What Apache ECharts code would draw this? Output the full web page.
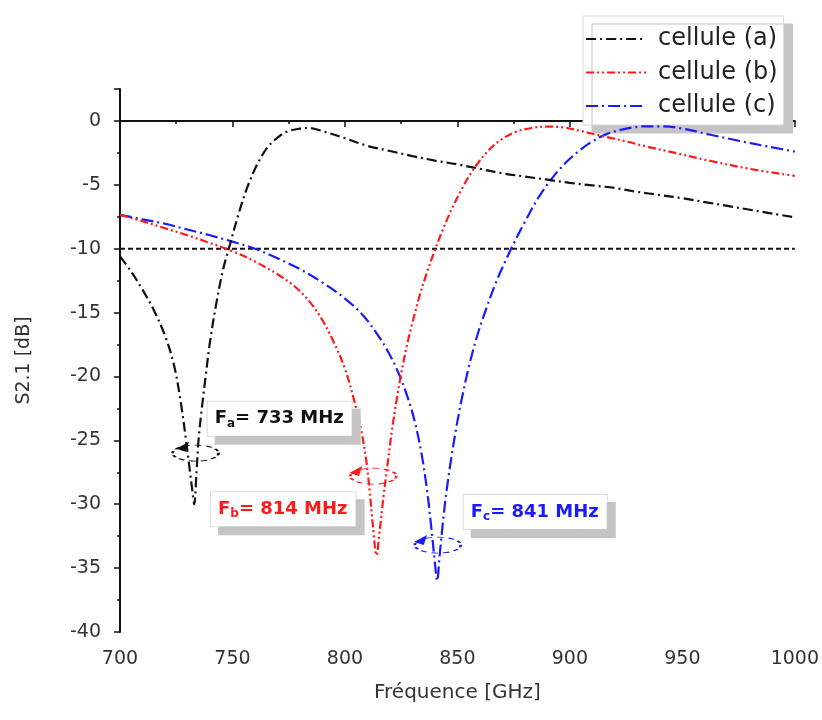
<!DOCTYPE html>
<html><head><meta charset="utf-8">
<script src="https://cdn.jsdelivr.net/npm/echarts@6/dist/echarts.min.js"></script>
<style>html,body{margin:0;padding:0;background:#fff}#c{width:822px;height:720px}</style>
</head><body><div id="c"></div>
<script>
// ---- data ----
const seriesNames = ['cellule (a)', 'cellule (b)', 'cellule (c)'];
const aFreq = [700,705,710,715,720,724,727,729.5,731,732,733,734,735,736.5,738,740,743,746,749,753,757,761,765,769,774,780,784,790,800,810,820,830,840,850,860,870,880,890,900,910,920,930,940,950,960,970,980,990,1000];
const aVal  = [-10.6,-11.8,-13.2,-14.8,-16.8,-19.1,-22.0,-25.2,-27.3,-28.7,-30,-27.5,-24.8,-22.3,-20.1,-17.3,-14.1,-11.5,-9.6,-7.1,-5.0,-3.4,-2.2,-1.45,-0.85,-0.6,-0.55,-0.8,-1.35,-1.95,-2.35,-2.75,-3.1,-3.4,-3.75,-4.1,-4.35,-4.6,-4.85,-5.05,-5.25,-5.55,-5.8,-6.05,-6.35,-6.65,-6.95,-7.25,-7.55];
const bFreq = [700,710,720,730,740,750,760,770,778,785,790,795,800,804,807,809.5,811,812.5,814,815.5,817,819,821,823,825,827.5,830,833,836,840,844,848,852,856,860,865,870,876,883,890,897,904,910,916,925,934,948,963,980,1000];
const bVal  = [-7.35,-7.85,-8.4,-8.95,-9.55,-10.2,-11.0,-12.0,-13.0,-14.3,-15.6,-17.3,-19.4,-21.8,-24.0,-26.6,-29.0,-31.8,-34,-32,-29.6,-26.8,-24.1,-21.8,-19.8,-17.6,-15.8,-13.8,-12.1,-10.1,-8.3,-6.7,-5.3,-4.1,-3.1,-2.1,-1.4,-0.85,-0.55,-0.45,-0.5,-0.75,-1.0,-1.25,-1.6,-2.0,-2.55,-3.15,-3.75,-4.3];
const cFreq = [700,710,720,730,740,750,760,770,780,790,800,808,814,819,824,828,831,834,836.5,838.5,840,841,842,843.5,845,847,849.5,852,855,859,863,867,871,875,880,886,892,898,904,910,916,925,934,942,950,963,975,988,1000];
const cVal  = [-7.35,-7.7,-8.05,-8.5,-8.95,-9.45,-10.0,-10.75,-11.6,-12.65,-13.9,-15.2,-16.6,-18.0,-19.8,-21.7,-23.5,-26.0,-28.9,-32.0,-34.6,-36,-34.2,-31.5,-29.2,-26.7,-24.0,-21.7,-19.3,-16.7,-14.6,-12.7,-11.1,-9.6,-7.9,-6.0,-4.5,-3.3,-2.35,-1.6,-1.05,-0.6,-0.42,-0.42,-0.6,-1.1,-1.55,-2.0,-2.4];
const thresholdFreq = [700, 1000];
const thresholdVal = [-10, -10];
const resonanceSub = ['a', 'b', 'c'];
const resonanceMHz = [733, 814, 841];
// annotation anchors (data units)
const ellipseAt = [[733.6, -26.0], [812.6, -27.8], [841.3, -33.2]];
const arrowAt   = [[727.8, -25.5], [804.8, -27.4], [833.6, -32.8]];
const labelAt   = [[771.0, -23.3], [772.6, -30.4], [884.6, -30.6]];

const colors = ['#111111', '#ff1a1a', '#1a1aff'];
const dashes = [[10,4,2,4], [8,3,2,3,2,3], [12,4,2,4]];
const FONT = 'DejaVu Sans, Verdana, sans-serif';

function pairs(f, v) { return f.map((x, i) => [x, v[i]]); }
const freqs = [aFreq, bFreq, cFreq];
const vals = [aVal, bVal, cVal];

const series = seriesNames.map((name, i) => ({
  name, type: 'line', data: pairs(freqs[i], vals[i]),
  symbol: 'none', showSymbol: false, smooth: 0.35,
  lineStyle: { color: colors[i], width: 2.2, type: dashes[i] },
  itemStyle: { color: colors[i] },
  z: 5 - i,
  markPoint: {
    silent: true,
    animation: false,
    data: [
      { coord: ellipseAt[i], symbol: 'circle', symbolSize: [46, 16],
        itemStyle: { color: 'rgba(0,0,0,0)', borderColor: colors[i], borderWidth: 1.6, borderType: [4,3] },
        label: { show: false } },
      { coord: arrowAt[i], symbol: 'path://M0,7 L12,0 L9,10 Z', symbolSize: [13, 10], symbolKeepAspect: false,
        itemStyle: { color: colors[i] }, label: { show: false } },
      { coord: labelAt[i], symbol: 'rect', symbolSize: 1,
        itemStyle: { color: 'rgba(0,0,0,0)' },
        label: {
          show: true, position: 'inside',
          formatter: '{m|F}{s|' + resonanceSub[i] + '}{m|= ' + resonanceMHz[i] + ' MHz}',
          backgroundColor: '#ffffff', borderColor: '#dddddd', borderWidth: 1,
          shadowColor: '#c4c4c4', shadowOffsetX: 8, shadowOffsetY: 8, shadowBlur: 0,
          padding: [6, 8, 6, 7],
          rich: {
            m: { fontSize: 18, fontWeight: 'bold', fontFamily: FONT, color: colors[i], lineHeight: 22 },
            s: { fontSize: 12, fontWeight: 'bold', fontFamily: FONT, color: colors[i], lineHeight: 22, verticalAlign: 'bottom', padding: [9, 0, 0, 0] }
          }
        } }
    ]
  }
}));

series.push({
  name: 'seuil', type: 'line', data: pairs(thresholdFreq, thresholdVal),
  symbol: 'none', lineStyle: { color: '#111', width: 2, type: [5, 3] }, z: 2
});

const chart = echarts.init(document.getElementById('c'), null, { renderer: 'canvas' });
chart.setOption({
  animation: false,
  backgroundColor: '#ffffff',
  grid: { left: 120, right: 26, top: 89, bottom: 88 },
  legend: {
    z: 1,
    data: seriesNames, orient: 'vertical', left: 583, top: 16,
    itemWidth: 60, itemHeight: 14, itemGap: 7.5,
    padding: [10, 6, 6, 2],
    itemStyle: { opacity: 0 },
    lineStyle: { width: 2.2 },
    backgroundColor: '#ffffff', borderColor: '#d8d8d8', borderWidth: 1,
    shadowColor: '#c4c4c4', shadowOffsetX: 9, shadowOffsetY: 8, shadowBlur: 0,
    textStyle: { fontSize: 24, fontFamily: FONT, color: '#222', lineHeight: 26, padding: [0, 0, 0, 7] }
  },
  xAxis: {
    type: 'value', min: 700, max: 1000, interval: 50,
    name: 'Fréquence [GHz]', nameLocation: 'middle', nameGap: 51,
    nameTextStyle: { fontSize: 20, fontFamily: FONT, color: '#333' },
    axisLine: { lineStyle: { color: '#111', width: 2 } },
    axisTick: { show: true, inside: false, length: 6, lineStyle: { color: '#111', width: 1.5 } },
    minorTick: { show: true, splitNumber: 2, length: 3, lineStyle: { color: '#111', width: 1.5 } },
    axisLabel: { fontSize: 19, fontFamily: FONT, color: '#333', margin: 18, formatter: v => String(v) },
    splitLine: { show: false }
  },
  yAxis: {
    type: 'value', min: -40, max: 2.5, interval: 5,
    name: 'S2.1 [dB]', nameLocation: 'middle', nameGap: 86, nameRotate: 90,
    nameTextStyle: { fontSize: 19, fontFamily: FONT, color: '#333' },
    axisLine: { show: true, lineStyle: { color: '#111', width: 2 } },
    axisTick: { show: true, inside: false, length: 6, lineStyle: { color: '#111', width: 1.5 } },
    minorTick: { show: true, splitNumber: 2, length: 3, lineStyle: { color: '#111', width: 1.5 } },
    axisLabel: { fontSize: 19, fontFamily: FONT, color: '#333', margin: 19, showMaxLabel: false, formatter: v => String(v) },
    splitLine: { show: false }
  },
  series
});
</script></body></html>
